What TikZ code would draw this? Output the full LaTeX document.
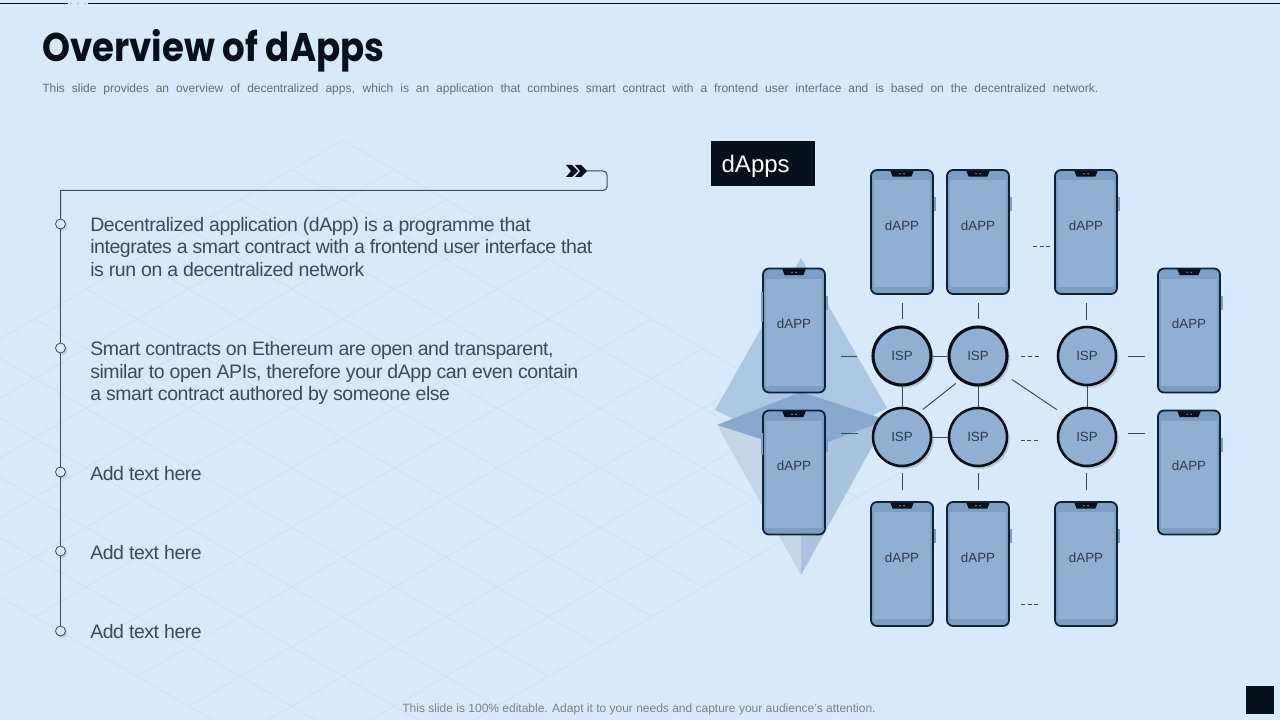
\documentclass[tikz,border=0pt]{standalone}
\usepackage{fontspec}
\setmainfont{Liberation Sans}
\newfontfamily\titlefont{Poppins}[FakeStretch=0.89]
\newfontfamily\bodyfont{Liberation Sans}[LetterSpace=-2.2]
\usetikzlibrary{shadows}
\definecolor{slidebg}{HTML}{D7EAFB}
\definecolor{gridline}{HTML}{CDE1F3}
\definecolor{inkdark}{HTML}{060F1A}
\definecolor{bodytext}{HTML}{3F4A57}
\definecolor{phonetext}{HTML}{2A3A4C}
\definecolor{phonerim}{HTML}{0B2239}
\definecolor{phoneband}{HTML}{7C9EC3}
\definecolor{phonescreen}{HTML}{8FB0D0}
\definecolor{ethupper}{HTML}{AAC8E3}
\definecolor{ethcentre}{HTML}{87A9CE}
\definecolor{ethleft}{HTML}{C4D6E7}
\definecolor{ethright}{HTML}{A8C3DF}
\tikzset{
  phone/.style={draw=phonerim, line width=1.35pt, rounded corners=4.5pt, inner sep=0pt,
    minimum width=46.5pt, minimum height=93pt, fill=phoneband,
    label={[dapplabel]center:dAPP},
    path picture={
      \begin{scope}[sharp corners]
      \fill[phonescreen] ([xshift=2.2pt,yshift=-7.5pt]path picture bounding box.north west)
        rectangle ([xshift=-2.2pt,yshift=5pt]path picture bounding box.south east);
      \fill[inkdark] ([xshift=-9pt]path picture bounding box.north) -- ([xshift=9pt]path picture bounding box.north)
        -- ([xshift=7pt,yshift=-5pt]path picture bounding box.north) -- ([xshift=-7pt,yshift=-5pt]path picture bounding box.north) -- cycle;
      \fill[white] ([xshift=-1.5pt,yshift=-2.8pt]path picture bounding box.north) circle (.4pt);
      \fill[white] ([xshift=1.5pt,yshift=-2.8pt]path picture bounding box.north) circle (.4pt);
      \end{scope}
    }},
  dapplabel/.style={yshift=5pt, font=\fontsize{10}{12}\selectfont, text=phonetext, inner sep=0pt},
  ispnode/.style={circle, draw=inkdark, line width=1.9pt, fill=phonescreen, minimum size=43.5pt, inner sep=0pt,
    font=\fontsize{10}{12}\selectfont, text=phonetext,
    drop shadow={shadow xshift=2pt, shadow yshift=-2pt, fill=gray, opacity=.35}},
  link/.style={draw=bodytext, line width=.75pt},
  dotnode/.style={circle, draw=bodytext, line width=.6pt, fill=slidebg, minimum size=7.5pt, inner sep=0pt,
    drop shadow={shadow xshift=1.5pt, shadow yshift=-1.5pt, fill=gray, opacity=.25}},
  bodynode/.style={anchor=west, align=left, inner sep=0pt, text=bodytext, font=\bodyfont\fontsize{14.6}{16.9}\selectfont},
}
\begin{document}
\begin{tikzpicture}[x=.75pt, y=-.75pt]
\useasboundingbox (0,0) rectangle (1280,720);
\fill[slidebg] (0,0) rectangle (1280,720);

% backdrop grid
\begin{scope}
  \clip (0,0) rectangle (1280,720);
  \foreach \k in {0,...,11} {
    \draw[gridline, line width=.6pt] ({343-51.4*\k},{140+29.8*\k}) -- ++({51.4*11},{29.8*11});
    \draw[gridline, line width=.6pt] ({343+51.4*\k},{140+29.8*\k}) -- ++({-51.4*11},{29.8*11});
  }
\end{scope}

% header
\draw[inkdark, line width=.75pt] (0,3.5) -- (68,3.5) (88,3.5) -- (1280,3.5);
\foreach \x in {71,78,85} \fill[gridline!70!gray] (\x,3.5) circle (.9pt);
\node[anchor=west, inner sep=0pt, text=inkdark, font=\titlefont\bfseries\fontsize{30}{36}\selectfont] (title) at (42,51) {Overview of dApps};
\node[anchor=west, inner sep=0pt, text=bodytext!80!white, font=\fontsize{9}{11}\selectfont] (subtitle) at (42,89)
  {\makebox[792pt][s]{This slide provides an overview of decentralized apps, which is an application that combines smart contract with a frontend user interface and is based on the decentralized network.}};

% timeline
\coordinate (chev) at (587,171);
\foreach \x in {566,575} \fill[inkdark] (\x,165) -- (\x+6,165) -- (\x+12,171) -- (\x+6,177) -- (\x,177) -- (\x+5,171) -- cycle;
\node[dotnode] (tn1) at (60.5,224) {};
\node[dotnode] (tn2) at (60.5,348) {};
\node[dotnode] (tn3) at (60.5,472) {};
\node[dotnode] (tn4) at (60.5,551) {};
\node[dotnode] (tn5) at (60.5,631) {};
\draw[link, rounded corners=3pt] (chev) -- (607,171) -- (607,190.5) [sharp corners] -- (60.5,190.5) -- (tn1.north);
\foreach \a/\b in {tn1/tn2,tn2/tn3,tn3/tn4,tn4/tn5} \draw[link] (\a) -- (\b);
\node[bodynode] (txta) at (90,247) {Decentralized application (dApp) is a programme that\\integrates a smart contract with a frontend user interface that\\is run on a decentralized network};
\node[bodynode] (txtb) at (90,373) {Smart contracts on Ethereum are open and transparent,\\similar to open APIs, therefore your dApp can even contain\\a smart contract authored by someone else};
\node[bodynode] (txtc) at (90,474) {Add text here};
\node[bodynode] (txtd) at (90,553) {Add text here};
\node[bodynode] (txte) at (90,632) {Add text here};

% ethereum mark behind the network
\fill[ethupper] (801,258) -- (715,410) -- (801,452) -- (887,408) -- cycle;
\fill[ethleft] (717,425) -- (801,452) -- (801,575) -- cycle;
\fill[ethright] (887,420) -- (801,452) -- (801,575) -- cycle;
\fill[ethcentre] (801,392) -- (717,425) -- (801,452) -- (887,420) -- cycle;

% network
\node[fill=inkdark, text=white, minimum width=78pt, minimum height=33.75pt, inner sep=0pt, text height=17.5pt, text depth=3.8pt, font=\fontsize{18}{22}\selectfont] (boxtitle) at (763,163.5) {dApps\kern11pt};
\foreach \nm/\x/\y in {pa/902/232, pb/978/232, pc/1086/232, pd/794/330.5, pe/794/472.5,
                       pf/1189/330.5, pg/1189/472.5, ph/902/564, pi/978/564, pj/1086/564} {
  \fill[phoneband] (\x+30,\y-35) rectangle (\x+33.5,\y-21);
  \node[phone] (\nm) at (\x,\y) {};
}
\fill[phoneband] (760.5,292) rectangle (763,322);
\fill[phoneband] (760.5,433) rectangle (763,455);

\node[ispnode, line width=2.3pt] (isp1) at (902,356) {ISP};
\node[ispnode, line width=2.3pt] (isp2) at (978,356) {ISP};
\node[ispnode] (isp3) at (1087,356) {ISP};
\node[ispnode] (isp4) at (902,437) {ISP};
\node[ispnode] (isp5) at (978,437) {ISP};
\node[ispnode] (isp6) at (1087,437) {ISP};

\coordinate (gapa) at (1033,246);
\coordinate (gapb) at (1052,246);
\coordinate (gapc) at (1021,604);
\coordinate (gapd) at (1040,604);

\draw[link, shorten <=6pt, shorten >=4.5pt] (pa.south) -- (pa.south |- isp1.north);
\draw[link, shorten <=6pt, shorten >=4.5pt] (pb.south) -- (pb.south |- isp2.north);
\draw[link, shorten <=6pt, shorten >=4.5pt] (pc.south) -- (pc.south |- isp3.north);
\draw[link] (isp1) -- (isp2);
\draw[link] (isp4) -- (isp5);
\draw[link] (isp1) -- (isp4);
\draw[link] (isp2) -- (isp5);
\draw[link] (isp3) -- (isp6);
\draw[link, shorten <=3.5pt, shorten >=3.5pt] (isp4.55) -- (isp2.233);
\draw[link, shorten <=8pt, shorten >=8pt] (isp2.-35) -- (isp6.135);
\draw[link, shorten <=11pt, shorten >=10.5pt] (pd.east |- isp1) -- (isp1.west);
\draw[link, shorten <=11pt, shorten >=10.5pt] (pe.east |- isp4.174) -- (isp4.174);
\draw[link, shorten <=8pt, shorten >=9pt] (isp3.east) -- (pf.west |- isp3);
\draw[link, shorten <=8pt, shorten >=9pt] (isp6.6) -- (pg.west |- isp6.6);
\draw[link, shorten <=4.5pt, shorten >=8pt] (ph.north |- isp4.south) -- (ph.north);
\draw[link, shorten <=4.5pt, shorten >=8pt] (pi.north |- isp5.south) -- (pi.north);
\draw[link, shorten <=4.5pt, shorten >=8pt] (pj.north |- isp6.south) -- (pj.north);
\draw[link, dash pattern=on 3pt off 2pt, shorten <=9.5pt, shorten >=12.5pt] (isp2.east) -- (isp3.west);
\draw[link, dash pattern=on 3pt off 2pt, shorten <=9.5pt, shorten >=12.5pt] (isp5.-6) -- (isp6.186);
\draw[link, dash pattern=on 3pt off 2pt] (gapa) -- (gapb);
\draw[link, dash pattern=on 3pt off 2pt] (gapc) -- (gapd);

% footer
\node[inner sep=0pt, text=gray, font=\fontsize{9}{11}\selectfont] (footer) at (639,709) {This slide is 100\% editable. Adapt it to your needs and capture your audience's attention.};
\node[fill=inkdark, minimum size=21pt, inner sep=0pt] (cornerbox) at (1260,700) {};
\end{tikzpicture}
\end{document}
